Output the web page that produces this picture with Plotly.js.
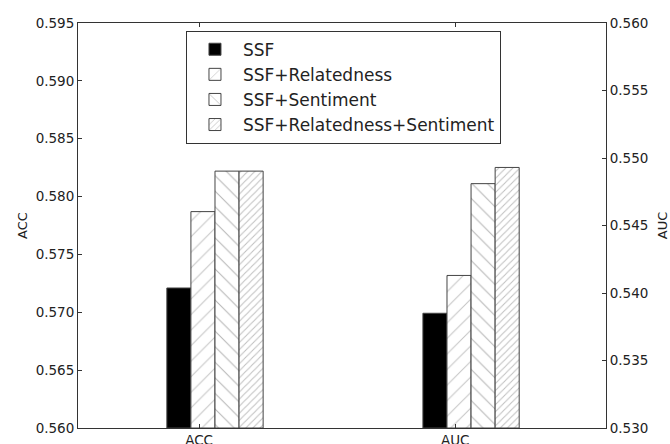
<!DOCTYPE html>
<html>
<head>
<meta charset="utf-8">
<script src="https://cdn.plot.ly/plotly-3.0.1.min.js"></script>
<style>html,body{margin:0;padding:0;background:#fff;}#chart{width:670px;height:444px;}</style>
</head>
<body>
<div id="chart"></div>
<script>
const categories = ['ACC', 'AUC'];
const seriesNames = ['SSF', 'SSF+Relatedness', 'SSF+Sentiment', 'SSF+Relatedness+Sentiment'];
const accValues = [0.5721, 0.5787, 0.5822, 0.5822];
const aucValues = [0.5385, 0.5413, 0.5481, 0.5493];
const accTicks = [0.560, 0.565, 0.570, 0.575, 0.580, 0.585, 0.590, 0.595];
const aucTicks = [0.530, 0.535, 0.540, 0.545, 0.550, 0.555, 0.560];

const offsets = [-0.126, -0.032, 0.062, 0.156];
const barWidth = 0.094;
const styles = [
  {color: '#000000', pattern: {shape: ''}},
  {color: '#ffffff', pattern: {shape: '/', size: 11, solidity: 0.09, fgcolor: '#c4c4c4', bgcolor: '#ffffff'}},
  {color: '#ffffff', pattern: {shape: '\\', size: 11, solidity: 0.09, fgcolor: '#b4b4b4', bgcolor: '#ffffff'}},
  {color: '#ffffff', pattern: {shape: '/', size: 5, solidity: 0.2, fgcolor: '#c0c0c0', bgcolor: '#ffffff'}}
];

const traces = [];
seriesNames.forEach((name, i) => {
  const marker = {color: styles[i].color, pattern: styles[i].pattern, line: {color: '#444444', width: 1}};
  traces.push({
    type: 'bar', name: name, legendgroup: name, x: [categories[0]], y: [accValues[i]],
    base: 0.560, offset: offsets[i], width: barWidth, marker: marker, yaxis: 'y', hoverinfo: 'name+y'
  });
});
seriesNames.forEach((name, i) => {
  const marker = {color: styles[i].color, pattern: styles[i].pattern, line: {color: '#444444', width: 1}};
  traces.push({
    type: 'bar', name: name, legendgroup: name, showlegend: false, x: [categories[1]], y: [aucValues[i]],
    base: 0.530, offset: offsets[i], width: barWidth, marker: marker, yaxis: 'y2', hoverinfo: 'name+y'
  });
});
// bar heights above each axis floor
traces.forEach(t => { t.y = [t.y[0] - t.base]; });

const fontFam = 'DejaVu Sans, sans-serif';
const layout = {
  width: 670, height: 444,
  margin: {l: 78, r: 64, t: 23, b: 16},
  paper_bgcolor: '#ffffff', plot_bgcolor: '#ffffff',
  barmode: 'overlay',
  showlegend: true,
  font: {family: fontFam, color: '#222222', size: 13.5},
  xaxis: {
    type: 'category', categoryarray: categories, range: [-0.473, 1.589],
    showline: true, linecolor: '#333333', linewidth: 1, mirror: 'ticks',
    ticks: 'inside', ticklen: 4, tickcolor: '#333333', showgrid: false, zeroline: false,
    tickfont: {size: 13.5, family: fontFam, color: '#222222'}, automargin: false
  },
  yaxis: {
    range: [0.560, 0.595], tickvals: accTicks, tickformat: '.3f',
    showline: true, linecolor: '#333333', linewidth: 1,
    ticks: 'inside', ticklen: 4, tickcolor: '#333333', showgrid: false, zeroline: false,
    tickfont: {size: 13.5, family: fontFam, color: '#222222'},
    title: {text: 'ACC', font: {size: 13, family: fontFam, color: '#222222'}, standoff: 5},
    automargin: false
  },
  yaxis2: {
    overlaying: 'y', side: 'right', range: [0.530, 0.560], tickvals: aucTicks, tickformat: '.3f',
    showline: true, linecolor: '#333333', linewidth: 1,
    ticks: 'inside', ticklen: 4, tickcolor: '#333333', showgrid: false, zeroline: false,
    tickfont: {size: 13.5, family: fontFam, color: '#222222'},
    title: {text: 'AUC', font: {size: 13, family: fontFam, color: '#222222'}, standoff: 10},
    automargin: false
  },
  legend: {
    x: 0.2045, y: 0.981, xanchor: 'left', yanchor: 'top',
    bgcolor: '#ffffff', bordercolor: '#333333', borderwidth: 1,
    font: {size: 17, family: fontFam, color: '#222222'},
    traceorder: 'normal', itemwidth: 46
  }
};

Plotly.newPlot('chart', traces, layout, {displayModeBar: false, staticPlot: true});
</script>
</body>
</html>
